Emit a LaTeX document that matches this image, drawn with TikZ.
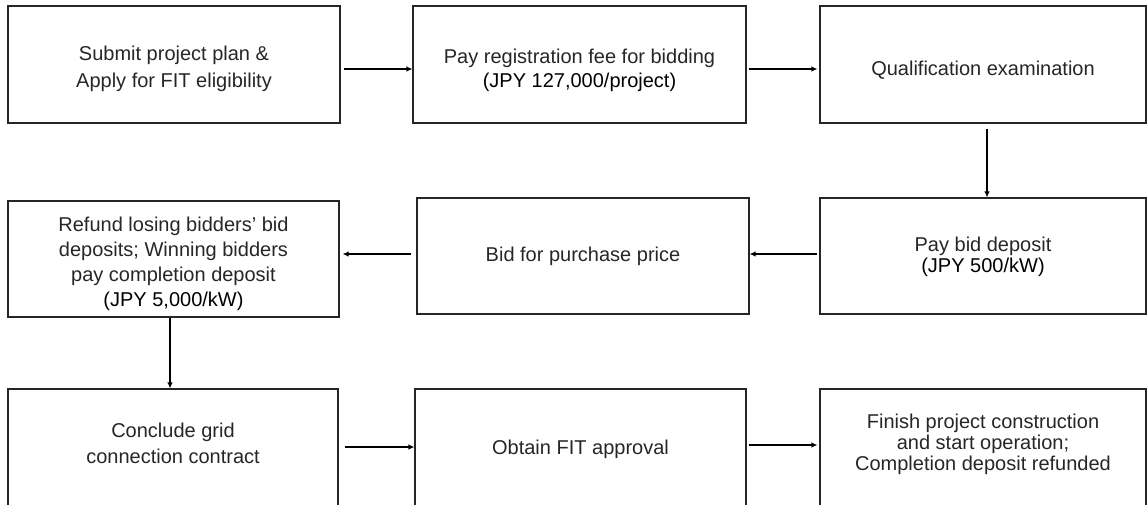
\documentclass[tikz,border=0pt]{standalone}
\usepackage{fontspec}
\setmainfont{Liberation Sans}
\usetikzlibrary{arrows.meta}
\begin{document}
\begin{tikzpicture}[x=1pt,y=-1pt,
  box/.style={draw=black!85, line width=1.1pt, minimum width=#1, minimum height=117pt, inner sep=0pt},
  txt/.style={align=center, text=black!85, inner sep=0pt, font=\fontsize{20}{#1}\selectfont},
  arr/.style={draw=black, line width=1.5pt, -{Latex[length=6pt,width=5.5pt]}}]
\useasboundingbox (0,0) rectangle (1147,504);
% row 1
\node[box=332pt] (b1) at (174,64.5) {};
\node[box=333pt] (b2) at (579.5,64.5) {};
\node[box=326pt] (b3) at (983,64.5) {};
% row 2
\node[box=331pt, minimum height=116pt] (b4) at (173.5,259) {};
\node[box=332pt, minimum height=116pt] (b5) at (583,256) {};
\node[box=326pt, minimum height=116pt] (b6) at (983,256) {};
% row 3
\node[box=330pt] (b7) at (173,447.5) {};
\node[box=331pt] (b8) at (580.5,447.5) {};
\node[box=326pt] (b9) at (983,447.5) {};
% texts
\node[txt=27] (t1) at ([yshift=-4.5pt]b1.center) {Submit project plan \&\\Apply for FIT eligibility};
\node[txt=24] (t2) at ([yshift=-6pt]b2.center) {Pay registration fee for bidding\\\textcolor{black}{(JPY 127,000/project)}};
\node[txt=26] (t3) at ([yshift=-6pt]b3.center) {Qualification examination};
\node[txt=25] (t4) at ([yshift=-4.5pt]b4.center) {Refund losing bidders’ bid\\deposits; Winning bidders\\pay completion deposit\\\textcolor{black}{(JPY 5,000/kW)}};
\node[txt=26] (t5) at (b5.center) {Bid for purchase price};
\node[txt=21] (t6) at ([yshift=-1pt]b6.center) {Pay bid deposit\\\textcolor{black}{(JPY 500/kW)}};
\node[txt=26] (t7) at ([yshift=4pt]b7.center) {Conclude grid\\connection contract};
\node[txt=26] (t8) at ([yshift=-1.5pt]b8.center) {Obtain FIT approval};
\node[txt=21] (t9) at ([yshift=3pt]b9.center) {Finish project construction\\and start operation;\\Completion deposit refunded};
% connectors
\draw[arr] ([xshift=3pt,yshift=-4.5pt]b1.east) -- ([yshift=-4.5pt]b2.west);
\draw[arr] ([xshift=2pt,yshift=-4.5pt]b2.east) -- ([xshift=-2pt,yshift=-4.5pt]b3.west);
\draw[arr] ([xshift=4pt,yshift=-5pt]b3.south) -- ([xshift=4pt]b6.north);
\draw[arr] ([xshift=-2pt,yshift=2pt]b6.west) -- ([yshift=2pt]b5.east);
\draw[arr] ([xshift=-5pt,yshift=2pt]b5.west) -- ([xshift=3pt,yshift=5pt]b4.east);
\draw[arr] ([xshift=-3.5pt]b4.south) -- ([xshift=-3pt]b7.north);
\draw[arr] ([xshift=6pt,yshift=0.5pt]b7.east) -- ([yshift=0.5pt]b8.west);
\draw[arr] ([xshift=2pt,yshift=2.5pt]b8.east) -- ([xshift=-2pt,yshift=2.5pt]b9.west);
\end{tikzpicture}
\end{document}
